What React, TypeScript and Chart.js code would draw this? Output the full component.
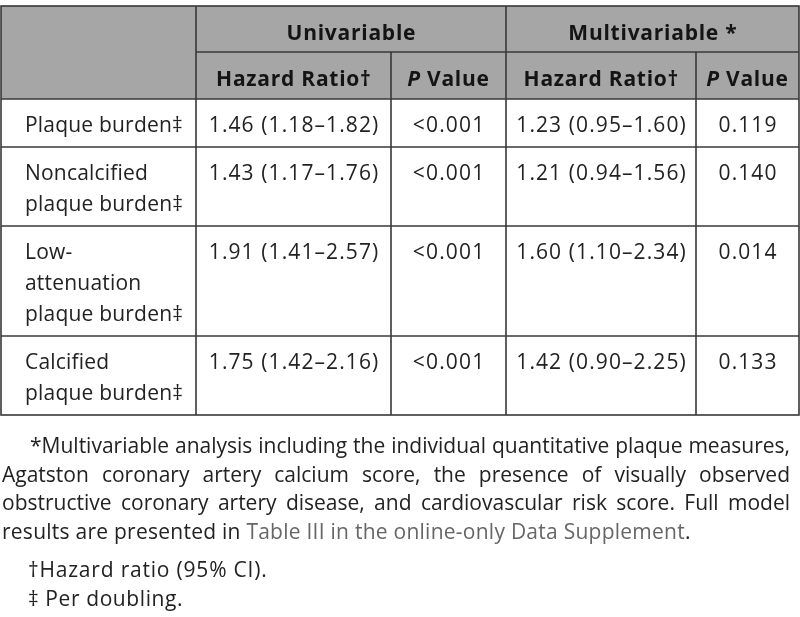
import React, { useEffect, useRef } from "react";
import { Chart, registerables } from "chart.js";

Chart.register(...registerables);

// ---------- data ----------
const groupHeaders = ["Univariable", "Multivariable *"];
const subHeaders = ["Hazard Ratio†", "P Value", "Hazard Ratio†", "P Value"];
const rowLabels: string[][] = [
  ["Plaque burden‡"],
  ["Noncalcified", "plaque burden‡"],
  ["Low-", "attenuation", "plaque burden‡"],
  ["Calcified", "plaque burden‡"],
];
const uniHR = ["1.46 (1.18–1.82)", "1.43 (1.17–1.76)", "1.91 (1.41–2.57)", "1.75 (1.42–2.16)"];
const uniP = ["<0.001", "<0.001", "<0.001", "<0.001"];
const multiHR = ["1.23 (0.95–1.60)", "1.21 (0.94–1.56)", "1.60 (1.10–2.34)", "1.42 (0.90–2.25)"];
const multiP = ["0.119", "0.140", "0.014", "0.133"];
const footJustified = [
  "*Multivariable analysis including the individual quantitative plaque measures,",
  "Agatston coronary artery calcium score, the presence of visually observed",
  "obstructive coronary artery disease, and cardiovascular risk score. Full model",
];
const footLast = ["results are presented in ", "Table III in the online-only Data Supplement", "."];
const footNotes = ["†Hazard ratio (95% CI).", "‡ Per doubling."];

// ---------- layout ----------
const FONT = '"Open Sans", "Noto Sans", sans-serif';
const colX = [1, 196, 391, 506, 696, 799];
const TOP = 6;
const GROUP_BOTTOM = 52;
const HEAD_BOTTOM = 99;
const LINE_H = 31;
const ROW_PAD = 17;

function setSpacing(ctx: any, px: number) {
  if ("letterSpacing" in ctx) ctx.letterSpacing = `${px}px`;
}

function centerText(ctx: CanvasRenderingContext2D, s: string, cx: number, y: number, sp: number) {
  setSpacing(ctx, sp);
  const w = ctx.measureText(s).width - sp;
  ctx.textAlign = "left";
  ctx.fillText(s, cx - w / 2, y);
  setSpacing(ctx, 0);
}

const tablePlugin = {
  id: "tableDraw",
  afterDraw(chart: any) {
    const ctx: CanvasRenderingContext2D = chart.ctx;
    const W = chart.width;
    const H = chart.height;
    ctx.save();
    ctx.fillStyle = "#ffffff";
    ctx.fillRect(0, 0, W, H);

    // row geometry
    const rowTops: number[] = [];
    let y = HEAD_BOTTOM;
    rowLabels.forEach((lines) => {
      rowTops.push(y);
      y += lines.length * LINE_H + ROW_PAD;
    });
    const tableBottom = y;

    // header background
    ctx.fillStyle = "#a6a6a6";
    ctx.fillRect(colX[0], TOP, colX[5] - colX[0], HEAD_BOTTOM - TOP);

    // lines
    ctx.strokeStyle = "#383838";
    ctx.lineWidth = 1.6;
    const line = (x1: number, y1: number, x2: number, y2: number) => {
      ctx.beginPath();
      ctx.moveTo(x1, y1);
      ctx.lineTo(x2, y2);
      ctx.stroke();
    };
    ctx.strokeRect(colX[0], TOP, colX[5] - colX[0], tableBottom - TOP);
    line(colX[1], GROUP_BOTTOM, colX[5], GROUP_BOTTOM);
    line(colX[0], HEAD_BOTTOM, colX[5], HEAD_BOTTOM);
    rowTops.slice(1).forEach((t) => line(colX[0], t, colX[5], t));
    line(colX[1], TOP, colX[1], tableBottom);
    line(colX[3], TOP, colX[3], tableBottom);
    line(colX[2], GROUP_BOTTOM, colX[2], tableBottom);
    line(colX[4], GROUP_BOTTOM, colX[4], tableBottom);

    // header texts
    ctx.textBaseline = "alphabetic";
    ctx.fillStyle = "#141414";
    ctx.font = `bold 21px ${FONT}`;
    centerText(ctx, groupHeaders[0], (colX[1] + colX[3]) / 2, 40, 0.75);
    centerText(ctx, groupHeaders[1], (colX[3] + colX[5]) / 2, 40, 0.75);

    subHeaders.forEach((s, i) => {
      const cx = (colX[i + 1] + colX[i + 2]) / 2;
      const by = 86;
      if (s.startsWith("P ")) {
        ctx.textAlign = "left";
        setSpacing(ctx, 0.75);
        ctx.font = `italic bold 21px ${FONT}`;
        const w1 = ctx.measureText("P").width;
        ctx.font = `bold 21px ${FONT}`;
        const rest = s.slice(1);
        const w2 = ctx.measureText(rest).width;
        const x0 = cx - (w1 + w2) / 2;
        ctx.font = `italic bold 21px ${FONT}`;
        ctx.fillText("P", x0, by);
        ctx.font = `bold 21px ${FONT}`;
        ctx.fillText(rest, x0 + w1, by);
        setSpacing(ctx, 0);
      } else {
        ctx.font = `bold 21px ${FONT}`;
        centerText(ctx, s, cx, by, 0.75);
      }
    });

    // body
    ctx.font = `21px ${FONT}`;
    ctx.fillStyle = "#222222";
    rowLabels.forEach((lines, r) => {
      const base = rowTops[r] + 33;
      ctx.textAlign = "left";
      setSpacing(ctx, 0.2);
      lines.forEach((l, k) => ctx.fillText(l, 25, base + k * LINE_H));
      setSpacing(ctx, 0);
      centerText(ctx, uniHR[r], (colX[1] + colX[2]) / 2, base, 1.1);
      centerText(ctx, uniP[r], (colX[2] + colX[3]) / 2, base, 1.2);
      centerText(ctx, multiHR[r], (colX[3] + colX[4]) / 2, base, 1.1);
      centerText(ctx, multiP[r], (colX[4] + colX[5]) / 2, base, 1.1);
    });

    // footnotes
    ctx.textAlign = "left";
    const FL = 2;
    const FR = 790;
    let fy = 453;
    const FOOT_H = 28.5;
    footJustified.forEach((txt, i) => {
      const x0 = i === 0 ? 30 : FL;
      const words = txt.split(" ");
      const ws = words.map((w) => ctx.measureText(w).width);
      const total = ws.reduce((a, b) => a + b, 0);
      const gap = (FR - x0 - total) / (words.length - 1);
      let x = x0;
      words.forEach((w, k) => {
        ctx.fillText(w, x, fy);
        x += ws[k] + gap;
      });
      fy += FOOT_H;
    });
    setSpacing(ctx, 0.25);
    let x = FL;
    footLast.forEach((part, k) => {
      ctx.fillStyle = k === 1 ? "#666666" : "#222222";
      ctx.fillText(part, x, fy);
      x += ctx.measureText(part).width;
    });
    ctx.fillStyle = "#222222";
    fy += 38;
    setSpacing(ctx, 0.8);
    ctx.fillText(footNotes[0], 28, fy);
    fy += 29;
    setSpacing(ctx, 0.6);
    ctx.fillText(footNotes[1], 28, fy);
    setSpacing(ctx, 0);
    ctx.restore();
  },
};

export default function App() {
  const ref = useRef<HTMLCanvasElement | null>(null);
  useEffect(() => {
    document.body.style.margin = "0";
    const canvas = ref.current;
    if (!canvas) return;
    const chart = new Chart(canvas, {
      type: "bar",
      data: { labels: rowLabels.map((l) => l.join(" ")), datasets: [] },
      options: {
        responsive: false,
        animation: false,
        devicePixelRatio: 1,
        layout: { padding: 0 },
        plugins: { legend: { display: false }, tooltip: { enabled: false } },
        scales: { x: { display: false }, y: { display: false } },
      },
      plugins: [tablePlugin],
    } as any);
    return () => chart.destroy();
  }, []);
  return <canvas ref={ref} width={800} height={617} style={{ display: "block" }} />;
}
